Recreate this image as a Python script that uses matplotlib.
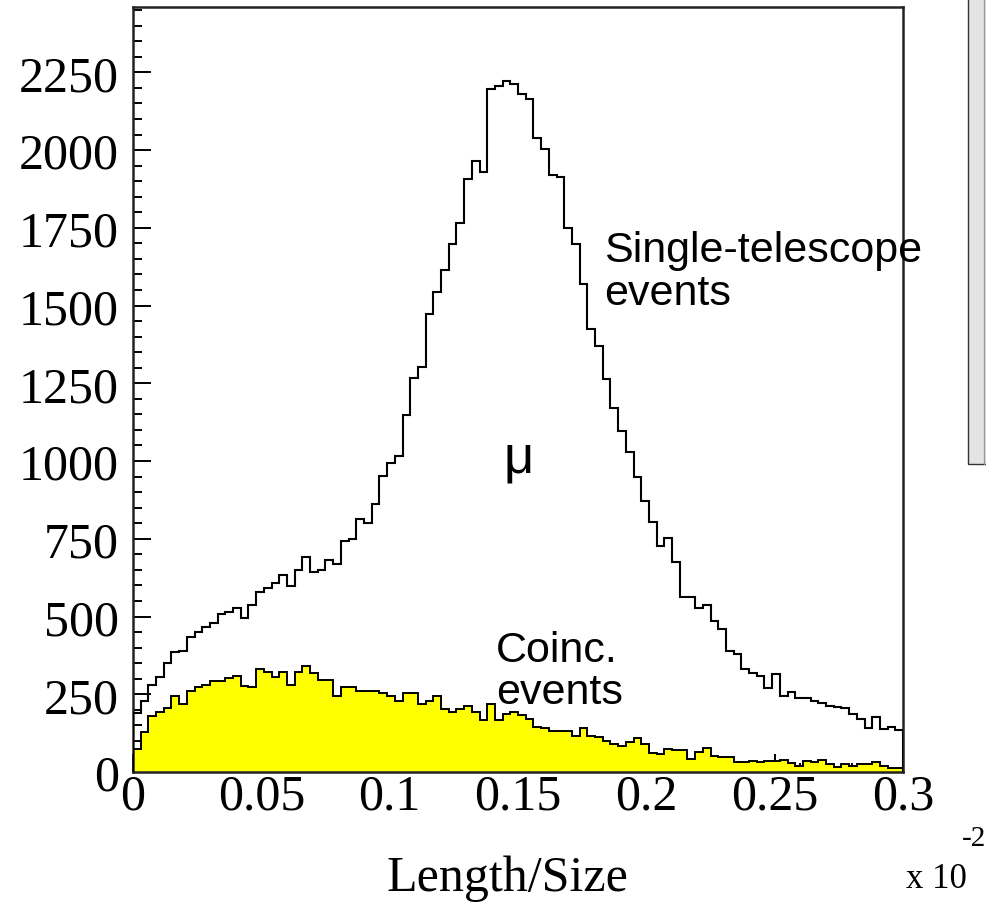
import numpy as np
import matplotlib.pyplot as plt
from matplotlib.patches import Rectangle
from matplotlib.ticker import MultipleLocator

# Length/Size distribution, 100 bins between 0 and 0.3 (x 10^-2)
bin_edges = np.linspace(0.0, 0.3, 101)

single_counts = [
    190, 229, 280, 307, 350, 385, 388, 433, 451, 467,
    478, 508, 515, 526, 495, 538, 580, 591, 607, 633,
    599, 649, 692, 642, 649, 682, 668, 743, 750, 813,
    802, 861, 952, 995, 1017, 1147, 1268, 1301, 1472, 1543,
    1614, 1697, 1767, 1906, 1965, 1929, 2195, 2205, 2222, 2211,
    2180, 2163, 2040, 2002, 1919, 1914, 1748, 1697, 1568, 1424,
    1370, 1263, 1169, 1095, 1028, 948, 872, 803, 727, 752,
    675, 562, 562, 527, 537, 485, 460, 390, 380, 331,
    318, 308, 270, 315, 245, 256, 238, 238, 229, 222,
    213, 210, 205, 186, 170, 141, 177, 138, 145, 136,
]

coinc_counts = [
    75, 130, 180, 194, 205, 245, 218, 261, 273, 281,
    294, 294, 302, 309, 277, 273, 331, 322, 306, 322,
    280, 322, 340, 317, 296, 296, 246, 274, 274, 261,
    261, 261, 253, 245, 229, 253, 253, 219, 229, 245,
    202, 194, 202, 213, 194, 168, 219, 168, 186, 192,
    183, 170, 146, 140, 133, 133, 133, 117, 140, 117,
    112, 101, 90, 85, 95, 108, 90, 60, 58, 74,
    72, 72, 42, 64, 77, 52, 48, 48, 33, 33,
    35, 31, 36, 36, 38, 28, 18, 34, 33, 40,
    26, 15, 27, 18, 26, 27, 31, 20, 13, 12,
]

x_ticks = [0, 0.05, 0.1, 0.15, 0.2, 0.25, 0.3]
x_tick_labels = ['0', '0.05', '0.1', '0.15', '0.2', '0.25', '0.3']
y_ticks = [0, 250, 500, 750, 1000, 1250, 1500, 1750, 2000, 2250]

W, H = 987, 903


def fx(px):
    return px / W


def fy(py):
    return 1 - py / H


fig = plt.figure(figsize=(W / 100, H / 100), dpi=100)
ax = fig.add_axes([fx(133), fy(773), fx(903) - fx(133), fy(8) - fy(773)])

ax.stairs(coinc_counts, bin_edges, fill=True, color='#ffff00', zorder=2)
ax.stairs(coinc_counts, bin_edges, color='black', linewidth=1.4, zorder=3)
ax.stairs(single_counts, bin_edges, color='black', linewidth=1.5, zorder=4)

ax.set_xlim(0, 0.3)
ax.set_ylim(0, 2460)

serif = 'Liberation Serif'
ax.set_xticks(x_ticks)
ax.set_xticklabels(x_tick_labels, fontsize=36, family=serif)
ax.set_yticks(y_ticks)
ax.set_yticklabels([str(v) for v in y_ticks], fontsize=36, family=serif)
ax.xaxis.set_minor_locator(MultipleLocator(0.01))
ax.yaxis.set_minor_locator(MultipleLocator(50))
ax.tick_params(which='both', direction='in', width=1.4, color='black')
ax.tick_params(axis='x', which='major', length=13, pad=1)
ax.tick_params(axis='x', which='minor', length=6.5)
ax.tick_params(axis='y', which='major', length=13, pad=10)
ax.tick_params(axis='y', which='minor', length=6.5)
ax.tick_params(top=False, right=False, which='both')

for side in ax.spines.values():
    side.set_linewidth(1.8)
    side.set_color('#222222')

# annotations
sans = 'Liberation Sans'
fig.text(fx(604), fy(262), 'Single-telescope', fontsize=31, family=sans, va='baseline')
fig.text(fx(604), fy(305), 'events', fontsize=31, family=sans, va='baseline')
fig.text(fx(496), fy(662), 'Coinc.', fontsize=31, family=sans, va='baseline')
fig.text(fx(496), fy(704), 'events', fontsize=31, family=sans, va='baseline')
fig.text(fx(504), fy(473), '\u03bc', fontsize=38, family=sans, va='baseline')

fig.text(fx(507), fy(891), 'Length/Size', fontsize=36, family=serif,
         ha='center', va='baseline')
fig.text(fx(906), fy(888), 'x 10', fontsize=25, family=serif, va='baseline')
fig.text(fx(962), fy(846), '-2', fontsize=21, family=serif, va='baseline')

# neighbouring panel edge at the right border
fig.patches.append(Rectangle((fx(968), fy(465)), fx(987) - fx(968) + 0.01,
                             fy(0) - fy(465) + 0.01, transform=fig.transFigure,
                             facecolor='#e4e4e4', edgecolor='#333333',
                             linewidth=1.0))
fig.lines.append(plt.Line2D([fx(984), fx(984)], [fy(465), fy(0)],
                            transform=fig.transFigure, color='#999999', linewidth=1))

fig.savefig('out.png', dpi=100)
